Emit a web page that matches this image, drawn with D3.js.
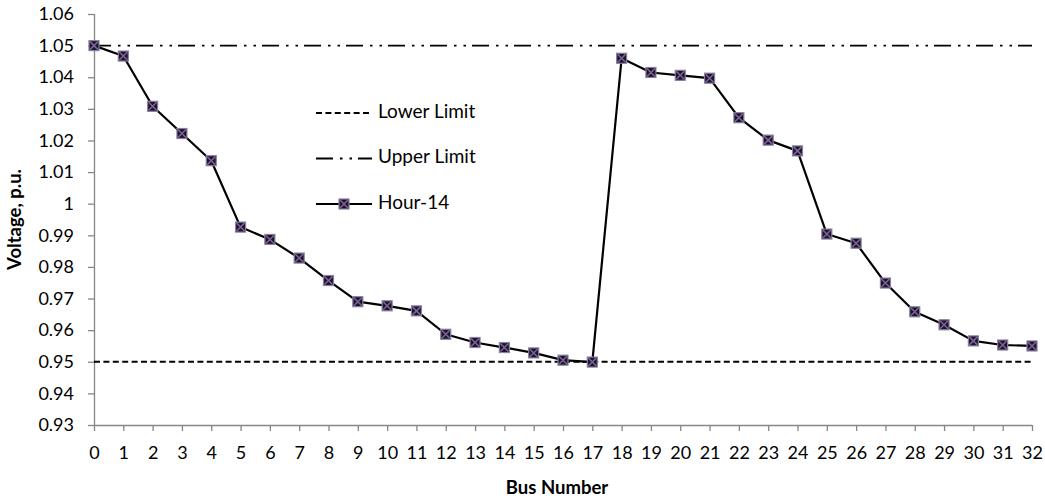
<!DOCTYPE html>
<html>
<head>
<meta charset="utf-8">
<script src="https://cdn.jsdelivr.net/npm/d3@7"></script>
<style>
  html, body { margin: 0; padding: 0; background: #fff; }
  svg { display: block; font-family: Lato, "Open Sans", sans-serif; }
</style>
</head>
<body>
<svg id="chart" width="1045" height="499"></svg>
<script>
// Bus numbers along the feeder
const buses = d3.range(0, 33);
// Bus voltages at hour 14 (p.u.)
const hour14 = [1.05, 1.0467, 1.0308, 1.0222, 1.0136, 0.9926, 0.9887, 0.9828, 0.9757, 0.9690,
                0.9677, 0.9661, 0.9587, 0.9561, 0.9545, 0.9528, 0.9505, 0.9499, 1.0460, 1.0415,
                1.0406, 1.0397, 1.0272, 1.0201, 1.0167, 0.9904, 0.9875, 0.9749, 0.9658, 0.9617,
                0.9566, 0.9553, 0.9550];
// Voltage limits (p.u.)
const lowerLimit = 0.95;
const upperLimit = 1.05;
// Y axis ticks
const yTicks = [0.93, 0.94, 0.95, 0.96, 0.97, 0.98, 0.99, 1.00, 1.01, 1.02, 1.03, 1.04, 1.05, 1.06];
const seriesNames = ["Lower Limit", "Upper Limit", "Hour-14"];

const svg = d3.select("#chart");
const plotLeft = 94, plotRight = 1032, plotTop = 14, plotBottom = 425;

const x = d3.scaleLinear().domain([0, 32]).range([plotLeft, plotRight]);
const y = d3.scaleLinear().domain([0.93, 1.06]).range([plotBottom, plotTop]);

const axisColor = "#868686";
const fmt = d => String(+d.toFixed(2));

// Y axis
const gy = svg.append("g").attr("transform", `translate(${plotLeft},0)`)
  .call(d3.axisLeft(y).tickValues(yTicks).tickFormat(fmt).tickSize(6).tickPadding(14));
// X axis
const gx = svg.append("g").attr("transform", `translate(0,${plotBottom})`)
  .call(d3.axisBottom(x).tickValues(buses).tickFormat(d3.format("d")).tickSize(6).tickPadding(15));

[gx, gy].forEach(g => {
  g.select(".domain").attr("stroke", axisColor).attr("stroke-width", 1.3);
  g.selectAll(".tick line").attr("stroke", axisColor).attr("stroke-width", 1.3);
  g.selectAll(".tick text").attr("fill", "#000").style("font-size", "18px")
    .style("font-family", "Lato, 'Open Sans', sans-serif");
});
gx.select(".domain").attr("d", `M${plotLeft},0.5H${plotRight}`);
gy.select(".domain").attr("d", `M0.5,${plotTop}V${plotBottom}`);

// Axis titles
svg.append("text").attr("x", (plotLeft + plotRight) / 2 - 6).attr("y", 489)
  .attr("text-anchor", "middle").attr("dominant-baseline", "middle")
  .attr("font-weight", "bold").attr("font-size", 18.5).text("Bus Number");
svg.append("text").attr("transform", `translate(16,${(plotTop + plotBottom) / 2}) rotate(-90)`)
  .attr("text-anchor", "middle").attr("dominant-baseline", "middle")
  .attr("font-weight", "bold").attr("font-size", 18.5).text("Voltage, p.u.");

const lowerDash = "6,3.4";
const upperDash = "17,7,2.5,7,2.5,6";

// Limit lines
svg.append("line").attr("x1", x(0)).attr("x2", x(32)).attr("y1", y(lowerLimit)).attr("y2", y(lowerLimit))
  .attr("stroke", "#000").attr("stroke-width", 1.9).attr("stroke-dasharray", lowerDash);
svg.append("line").attr("x1", x(0)).attr("x2", x(32)).attr("y1", y(upperLimit)).attr("y2", y(upperLimit))
  .attr("stroke", "#000").attr("stroke-width", 1.9).attr("stroke-dasharray", upperDash);

// Voltage profile
const line = d3.line().x((d, i) => x(buses[i])).y(d => y(d));
svg.append("path").datum(hour14).attr("d", line)
  .attr("fill", "none").attr("stroke", "#000").attr("stroke-width", 2.2).attr("stroke-linejoin", "round");

function marker(g, cx, cy) {
  const s = 5;
  g.append("rect").attr("x", cx - s).attr("y", cy - s).attr("width", 2 * s).attr("height", 2 * s)
    .attr("fill", "#1b1622").attr("stroke", "#8a7fa6").attr("stroke-width", 1.2);
  g.append("path").attr("d", `M${cx - s + 1},${cy - s + 1}L${cx + s - 1},${cy + s - 1}M${cx + s - 1},${cy - s + 1}L${cx - s + 1},${cy + s - 1}`)
    .attr("stroke", "#8064a2").attr("stroke-width", 1.5).attr("fill", "none");
}
const gm = svg.append("g");
hour14.forEach((v, i) => marker(gm, x(buses[i]), y(v)));

// Legend
const lg = svg.append("g");
const lx0 = 316, lx1 = 372, rows = [113, 158.5, 204];
const styles = [lowerDash, upperDash, null];
rows.forEach((ry, i) => {
  lg.append("line").attr("x1", lx0).attr("x2", lx1).attr("y1", ry).attr("y2", ry)
    .attr("stroke", "#000").attr("stroke-width", i === 2 ? 2.2 : 1.9)
    .attr("stroke-dasharray", styles[i]);
  if (i === 2) marker(lg, (lx0 + lx1) / 2, ry);
  lg.append("text").attr("x", 378).attr("y", ry).attr("dominant-baseline", "middle")
    .attr("font-size", 19).attr("fill", "#000").text(seriesNames[i]);
});
</script>
</body>
</html>
